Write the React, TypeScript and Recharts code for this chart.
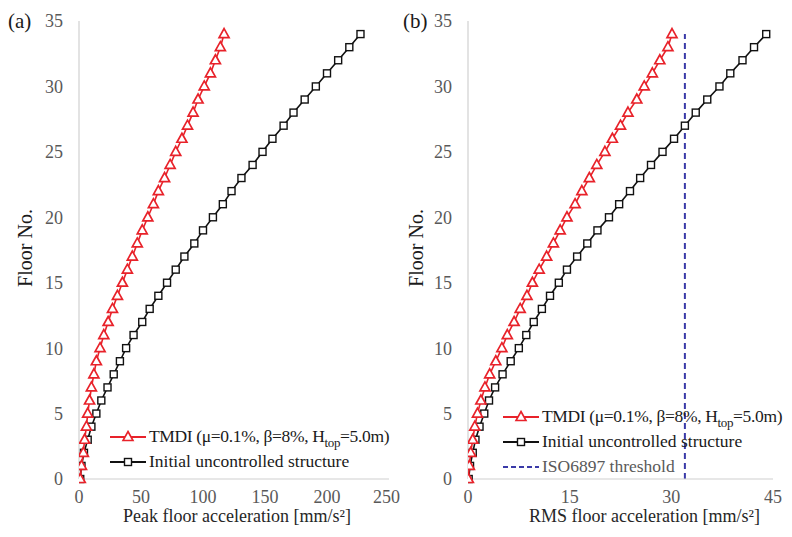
import React from 'react';
import { ScatterChart, Scatter, XAxis, YAxis, ReferenceLine, Legend } from 'recharts';

const floors = [0, 1, 2, 3, 4, 5, 6, 7, 8, 9, 10, 11, 12, 13, 14, 15, 16, 17, 18, 19, 20, 21, 22, 23, 24, 25, 26, 27, 28, 29, 30, 31, 32, 33, 34];

const peakTMDI = [1, 2, 3.5, 4.5, 6, 7, 8.5, 10, 12, 14, 17, 20, 23.5, 27, 31, 35, 39, 43, 47, 51, 55.5, 60, 64, 69, 73.5, 78, 83, 87.5, 92, 96, 101, 106, 110, 114, 117];
const peakUncontrolled = [1, 2, 4, 7, 10, 14, 18, 23, 28, 33, 38, 44, 51, 57, 64, 71, 78, 85, 93, 100, 108, 116, 123, 131, 140, 148, 156, 165, 173, 182, 191, 200, 209, 218, 227];

const rmsTMDI = [0.05, 0.2, 0.4, 0.7, 1.0, 1.4, 1.9, 2.5, 3.2, 4.1, 5.0, 5.8, 6.8, 7.7, 8.7, 9.5, 10.5, 11.6, 12.6, 13.6, 14.6, 15.8, 16.8, 17.9, 19.0, 20.2, 21.3, 22.5, 23.6, 24.9, 26.0, 27.2, 28.3, 29.5, 30.1];
const rmsUncontrolled = [0.1, 0.3, 0.7, 1.1, 1.7, 2.4, 3.1, 4.0, 5.1, 6.3, 7.5, 8.6, 9.7, 10.9, 12.1, 13.4, 14.6, 16.1, 17.6, 19.1, 20.8, 22.3, 23.9, 25.4, 27.0, 28.7, 30.4, 32.0, 33.6, 35.3, 37.1, 38.7, 40.5, 42.2, 44.0];

const isoThreshold = 32;
const isoFloors = [0, 34];

const peakTicks = [0, 50, 100, 150, 200, 250];
const rmsTicks = [0, 15, 30, 45];
const floorTicks = [0, 5, 10, 15, 20, 25, 30, 35];

const RED = '#e8222a';
const BLACK = '#111111';
const BLUE = '#3a3aa8';
const FONT = '"Liberation Serif", "Times New Roman", serif';

const toPoints = (xs: number[]) => floors.map((f, i) => ({ x: xs[i], floor: f }));

const Triangle = (props: any) => {
  const { cx, cy } = props;
  if (cx == null || cy == null) return null;
  return (
    <path
      d={`M${cx},${cy - 5.5} L${cx + 5},${cy + 3.5} L${cx - 5},${cy + 3.5} Z`}
      fill="#fff"
      stroke={RED}
      strokeWidth={1.7}
    />
  );
};

const Square = (props: any) => {
  const { cx, cy } = props;
  if (cx == null || cy == null) return null;
  return <rect x={cx - 3.5} y={cy - 3.5} width={7} height={7} fill="#fff" stroke={BLACK} strokeWidth={1.4} />;
};

const sampleTri = (
  <svg width={36} height={14}>
    <line x1={0} y1={7} x2={36} y2={7} stroke={RED} strokeWidth={1.8} />
    <path d="M18,1.5 L23,10.5 L13,10.5 Z" fill="#fff" stroke={RED} strokeWidth={1.6} />
  </svg>
);
const sampleSq = (
  <svg width={36} height={14}>
    <line x1={0} y1={7} x2={36} y2={7} stroke={BLACK} strokeWidth={1.8} />
    <rect x={14.5} y={3.5} width={7} height={7} fill="#fff" stroke={BLACK} strokeWidth={1.4} />
  </svg>
);
const sampleDash = (
  <svg width={36} height={14}>
    <line x1={0} y1={7} x2={36} y2={7} stroke={BLUE} strokeWidth={1.8} strokeDasharray="5 3" />
  </svg>
);

const Row = ({ sample, children, color, style }: any) => (
  <div style={{ display: 'flex', alignItems: 'center', height: 25, whiteSpace: 'nowrap', color }}>
    {sample}
    <span style={{ marginLeft: 3, ...style }}>{children}</span>
  </div>
);

const tmdiLabel = (
  <>
    TMDI (μ=0.1%, β=8%, H<sub style={{ fontSize: 13, lineHeight: 0 }}>top</sub>=5.0m)
  </>
);

const makeLegend = (withIso: boolean) => () => (
  <div style={{ fontFamily: FONT, fontSize: 17.5, lineHeight: '25px' }}>
    <Row sample={sampleTri} color="#1a1a1a" style={{ letterSpacing: '-0.35px' }}>{tmdiLabel}</Row>
    <Row sample={sampleSq} color="#1a1a1a">Initial uncontrolled structure</Row>
    {withIso && <Row sample={sampleDash} color="#595959">ISO6897 threshold</Row>}
  </div>
);

const xTitle = (text: string, dx: number) => (props: any) => {
  const { viewBox } = props;
  return (
    <text
      x={viewBox.x + viewBox.width / 2 + dx}
      y={viewBox.y + 43}
      textAnchor="middle"
      fontFamily={FONT}
      fontSize={18}
      fill="#262626"
    >
      {text}
    </text>
  );
};

const yTitle = (xPos: number) => (props: any) => {
  const { viewBox } = props;
  const cy = viewBox.y + viewBox.height / 2 - 2;
  return (
    <text
      x={xPos}
      y={cy}
      transform={`rotate(-90, ${xPos}, ${cy})`}
      textAnchor="middle"
      dominantBaseline="central"
      fontFamily={FONT}
      fontSize={20}
      fill="#1a1a1a"
    >
      Floor No.
    </text>
  );
};

const tickStyle = { fill: '#595959', fontSize: 18, fontFamily: FONT };

const Panel = ({
  width,
  yAxisWidth,
  marginRight,
  domain,
  ticks,
  tmdi,
  unc,
  title,
  titleDx,
  yTitleX,
  withIso,
  legendLeft,
  legendTop,
}: any) => (
  <ScatterChart width={width} height={537} margin={{ top: 21, right: marginRight, bottom: 0, left: 0 }}>
    <XAxis
      type="number"
      dataKey="x"
      domain={domain}
      ticks={ticks}
      allowDataOverflow
      height={58}
      axisLine={{ stroke: '#d0d0d0', strokeWidth: 1.2 }}
      tickLine={false}
      tickSize={0}
      tickMargin={11}
      tick={tickStyle}
      label={{ content: xTitle(title, titleDx) }}
    />
    <YAxis
      type="number"
      dataKey="floor"
      domain={[0, 35]}
      ticks={floorTicks}
      width={yAxisWidth}
      axisLine={{ stroke: '#d0d0d0', strokeWidth: 1.2 }}
      tickLine={false}
      tickSize={0}
      tickMargin={16}
      tick={tickStyle}
      label={{ content: yTitle(yTitleX) }}
    />
    {withIso && (
      <ReferenceLine
        segment={[
          { x: isoThreshold, y: isoFloors[0] },
          { x: isoThreshold, y: isoFloors[1] },
        ]}
        stroke={BLUE}
        strokeWidth={2}
        strokeDasharray="6 4"
      />
    )}
    <Scatter
      name="Initial uncontrolled structure"
      data={toPoints(unc)}
      line={{ stroke: BLACK, strokeWidth: 1.6 }}
      lineType="joint"
      shape={Square}
      isAnimationActive={false}
    />
    <Scatter
      name="TMDI"
      data={toPoints(tmdi)}
      line={{ stroke: RED, strokeWidth: 1.6 }}
      lineType="joint"
      shape={Triangle}
      isAnimationActive={false}
    />
    <Legend
      layout="vertical"
      align="center"
      verticalAlign="middle"
      wrapperStyle={{ left: legendLeft, top: legendTop, width: 300, height: 80, bottom: 'auto', right: 'auto' }}
      content={makeLegend(withIso)}
    />
  </ScatterChart>
);

export default function App() {
  return (
    <div
      style={{
        position: 'absolute',
        left: 0,
        top: 0,
        width: 792,
        height: 537,
        background: '#fff',
        overflow: 'hidden',
        fontFamily: FONT,
      }}
    >
      <div style={{ position: 'absolute', left: 0, top: 0 }}>
        <Panel
          width={400}
          yAxisWidth={79}
          marginRight={11}
          domain={[0, 250]}
          ticks={peakTicks}
          tmdi={peakTMDI}
          unc={peakUncontrolled}
          title="Peak floor acceleration [mm/s²]"
          titleDx={3}
          yTitleX={25}
          withIso={false}
          legendLeft={110}
          legendTop={424}
        />
      </div>
      <div style={{ position: 'absolute', left: 400, top: 0 }}>
        <Panel
          width={392}
          yAxisWidth={68}
          marginRight={19}
          domain={[0, 45]}
          ticks={rmsTicks}
          tmdi={rmsTMDI}
          unc={rmsUncontrolled}
          title="RMS floor acceleration [mm/s²]"
          titleDx={24}
          yTitleX={16}
          withIso={true}
          legendLeft={103}
          legendTop={404}
        />
      </div>
      <div style={{ position: 'absolute', left: 8, top: 8, fontSize: 21, color: '#1a1a1a', lineHeight: '26px' }}>(a)</div>
      <div style={{ position: 'absolute', left: 403, top: 8, fontSize: 21, color: '#1a1a1a', lineHeight: '26px' }}>(b)</div>
    </div>
  );
}
